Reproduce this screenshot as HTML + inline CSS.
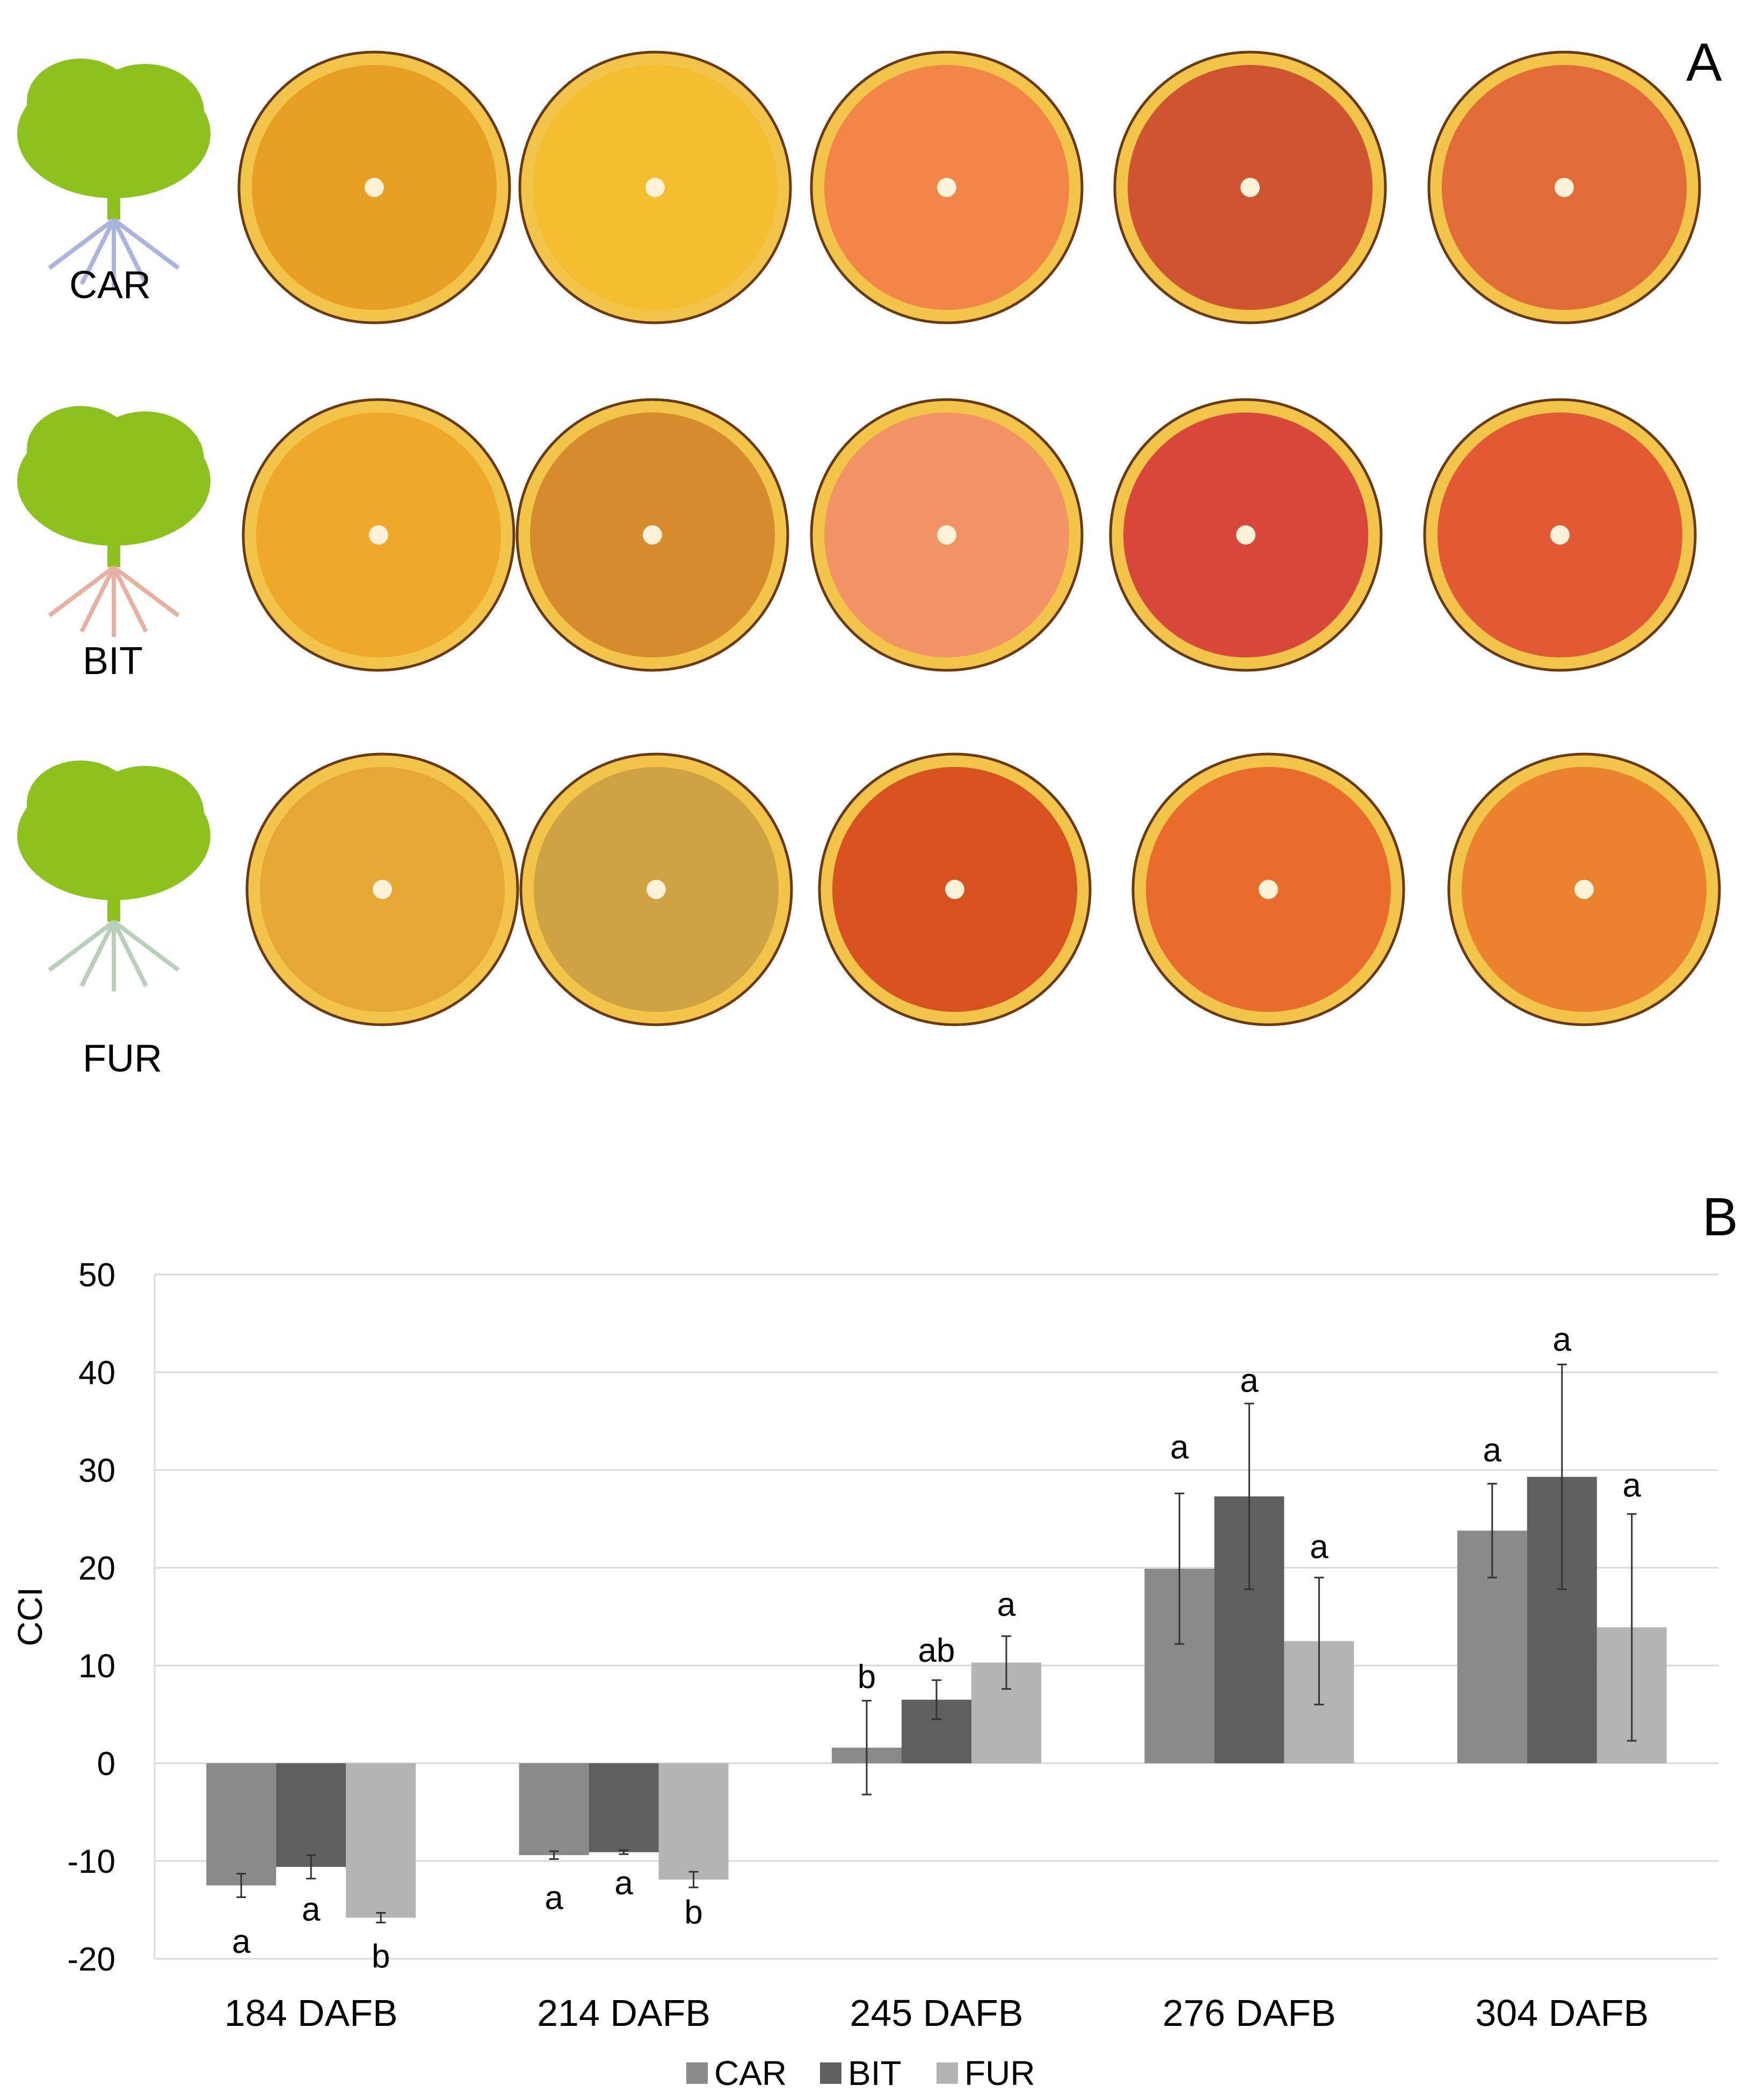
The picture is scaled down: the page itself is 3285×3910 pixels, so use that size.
<!DOCTYPE html>
<html><head><meta charset="utf-8"><style>
html,body{margin:0;padding:0;background:#fff;}
svg{display:block;font-family:"Liberation Sans",sans-serif;}
</style></head><body>
<svg id="fig" width="3285" height="3910" viewBox="0 0 3285 3910" xmlns="http://www.w3.org/2000/svg">
<g id="panelA"></g>
<text x="3140" y="150" font-size="100">A</text>
<text x="3170" y="2300" font-size="100">B</text>
<g id="chart"></g>
</svg>
<script>
const NS='http://www.w3.org/2000/svg';
function mk(tag,attrs,parent){const e=document.createElementNS(NS,tag);for(const k in attrs)e.setAttribute(k,attrs[k]);parent.appendChild(e);return e;}

// ---- Panel A (photos approximated) ----
const panelA=document.getElementById('panelA');
const photoRows=[{y:349,label:'CAR',root:'#aab4e0',lx:205,ly:555},{y:996,label:'BIT',root:'#e8b0a0',lx:210,ly:1255},{y:1656,label:'FUR',root:'#b8d0b8',lx:228,ly:1995}];
const orangeX=[[697,1220,1763,2328,2913],[705,1215,1763,2320,2905],[712,1222,1778,2362,2950]];
const orangeCol=[['#e8a024','#f5bd30','#f28548','#cf5430','#e26c38'],['#eea82a','#d68c2c','#f39466','#d8483a','#e25a34'],['#e6a832','#cfa244','#d85220','#ea6c2c','#ea822e']];
photoRows.forEach((r,i)=>{
  const t=mk('g',{},panelA);
  
  
  const cy=r.y-100;
  mk('ellipse',{cx:212,cy:cy,rx:180,ry:120,fill:'#8cc11e'},t);
  mk('ellipse',{cx:150,cy:cy-60,rx:100,ry:80,fill:'#8cc11e'},t);
  mk('ellipse',{cx:270,cy:cy-40,rx:110,ry:90,fill:'#8cc11e'},t);
  mk('rect',{x:200,y:cy+90,width:24,height:70,fill:'#8cc11e'},t);
  mk('path',{d:`M212 ${cy+160} l-120 90 M212 ${cy+160} l120 90 M212 ${cy+160} l-60 120 M212 ${cy+160} l60 120 M212 ${cy+160} l0 130`,stroke:r.root,'stroke-width':8,fill:'none'},t);
  const lb=mk('text',{x:r.lx,y:r.ly,'font-size':72,'text-anchor':'middle'},panelA);
  lb.textContent=r.label;
  
  
  orangeX[i].forEach((x,j)=>{
    const o=mk('g',{},panelA);
    
    
    mk('circle',{cx:x,cy:r.y,r:252,fill:'#f2c44a',stroke:'#6a3a10','stroke-width':5},o);
    mk('circle',{cx:x,cy:r.y,r:228,fill:orangeCol[i][j]},o);
    mk('circle',{cx:x,cy:r.y,r:18,fill:'#fff2d8'},o);
  });
});

// ---- Panel B chart ----
const categories=['184 DAFB','214 DAFB','245 DAFB','276 DAFB','304 DAFB'];
const seriesNames=['CAR','BIT','FUR'];
const carVals=[-12.5,-9.4,1.6,19.9,23.8];
const bitVals=[-10.6,-9.1,6.5,27.3,29.3];
const furVals=[-15.8,-11.9,10.3,12.5,13.9];
const carErr=[1.2,0.4,4.8,7.7,4.8];
const bitErr=[1.2,0.2,2.0,9.5,11.5];
const furErr=[0.5,0.8,2.7,6.5,11.6];
const carLetters=['a','a','b','a','a'];
const bitLetters=['a','a','ab','a','a'];
const furLetters=['b','b','a','a','a'];
const carLetterY=[-18.2,-13.7,8.9,32.4,32.1];
const bitLetterY=[-14.9,-12.2,11.6,39.2,43.4];
const furLetterY=[-19.7,-15.2,16.3,22.2,28.5];
const yTicks=[-20,-10,0,10,20,30,40,50];

const barColors=['#8a8a8a','#5f5f5f','#b4b4b4'];
const allVals=[carVals,bitVals,furVals],allErrs=[carErr,bitErr,furErr],allLets=[carLetters,bitLetters,furLetters],allLetY=[carLetterY,bitLetterY,furLetterY];
const chartG=document.getElementById('chart');
const plotL=288,plotR=3200,plotTop=2373,plotBot=3647,yMin=-20,yMax=50;
const yS=v=>plotBot-(v-yMin)/(yMax-yMin)*(plotBot-plotTop);
const gw=(plotR-plotL)/categories.length, bw=130;
const bx=(g,s)=>plotL+gw*g+gw/2-1.5*bw+s*bw;

yTicks.forEach(t=>{
  const gl=mk('line',{x1:plotL,x2:plotR,y1:yS(t),y2:yS(t),stroke:'#d9d9d9','stroke-width':3},chartG);
  
  
  const tl=mk('text',{x:215,y:yS(t)+22,'font-size':62,'text-anchor':'end'},chartG);
  tl.textContent=t;
  
  
});
const axl=mk('line',{x1:plotL,x2:plotL,y1:plotTop,y2:plotBot,stroke:'#d9d9d9','stroke-width':3},chartG);


const ytl=mk('text',{x:0,y:0,'font-size':64,'text-anchor':'middle',transform:`translate(78,${yS(15)}) rotate(-90)`},chartG);
ytl.textContent='CCI';



categories.forEach((c,g)=>{
  for(let s=0;s<3;s++){
    const v=allVals[s][g],x=bx(g,s);
    const b=mk('rect',{x:x,y:Math.min(yS(v),yS(0)),width:bw,height:Math.abs(yS(v)-yS(0)),fill:barColors[s]},chartG);
    
    
    const cx=x+bw/2,e=allErrs[s][g];
    const eb=mk('path',{d:`M${cx} ${yS(v+e)}V${yS(v-e)}M${cx-9} ${yS(v+e)}h18M${cx-9} ${yS(v-e)}h18`,stroke:'#333','stroke-width':3,fill:'none'},chartG);
    
    
    const lt=mk('text',{x:cx,y:yS(allLetY[s][g])+22,'font-size':62,'text-anchor':'middle'},chartG);
    lt.textContent=allLets[s][g];
    
    
  }
  const cl=mk('text',{x:plotL+gw*g+gw/2,y:3772,'font-size':70,'text-anchor':'middle'},chartG);
  cl.textContent=c;
  
  
});
const legX=[1278,1527,1744];
seriesNames.forEach((n,s)=>{
  const lg=mk('g',{},chartG);
  
  
  mk('rect',{x:legX[s],y:3840,width:40,height:40,fill:barColors[s]},lg);
  const tx=mk('text',{x:legX[s]+52,y:3882,'font-size':64},lg);
  tx.textContent=n;
});
</script>
</body></html>
